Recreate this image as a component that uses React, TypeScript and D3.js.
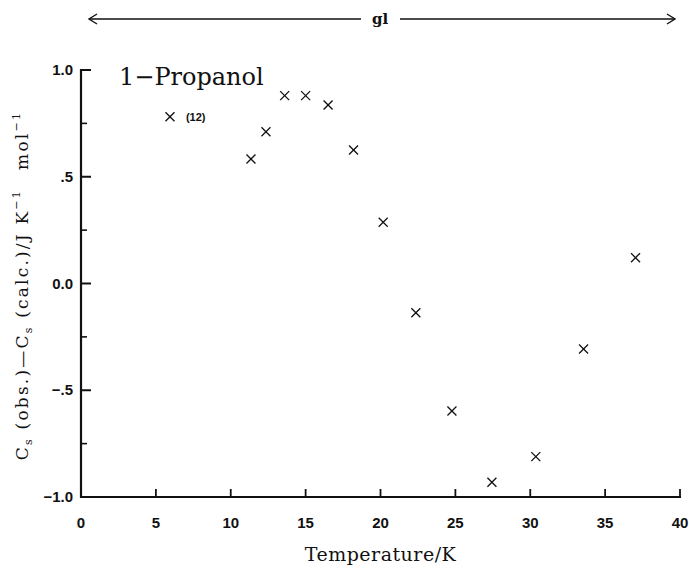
import React from "react";
import * as d3 from "d3";

const temperatures = [5.94, 11.35, 12.35, 13.6, 15.0, 16.5, 18.2, 20.18, 22.36, 24.77, 27.44, 30.37, 33.56, 37.03];
const deltaCs = [0.781, 0.583, 0.711, 0.88, 0.88, 0.836, 0.625, 0.287, -0.137, -0.597, -0.931, -0.811, -0.307, 0.121];
const xTicks = [0, 5, 10, 15, 20, 25, 30, 35, 40];
const yMajorTicks = [1.0, 0.5, 0.0, -0.5, -1.0];
const yMajorLabels = ["1.0", ".5", "0.0", "\u2212.5", "\u22121.0"];
const yMinorTicks = [0.75, 0.25, -0.25, -0.75];
const title = "1\u2212Propanol";
const phaseLabel = "gl";
const annotation = "(12)";

const W = 689;
const H = 570;
const left = 81;
const right = 680;
const top = 70;
const bottom = 497;

export default function App() {
  const x = d3.scaleLinear().domain([0, 40]).range([left, right]);
  const y = d3.scaleLinear().domain([-1, 1]).range([bottom, top]);
  const s = 4.5;
  const serif = "'DejaVu Serif', serif";
  const sans = "'Liberation Sans', Arial, sans-serif";
  const arrowY = 19;
  const mid = (left + right) / 2;

  return (
    <div style={{ position: "absolute", left: 0, top: 0 }}>
      <svg width={W} height={H} viewBox={`0 0 ${W} ${H}`} style={{ display: "block", background: "#fff" }}>
        {/* top arrow */}
        <g stroke="#111" strokeWidth={1.4} fill="none">
          <line x1={89} y1={arrowY} x2={361} y2={arrowY} />
          <line x1={400} y1={arrowY} x2={675} y2={arrowY} />
          <polyline points={`${97},${arrowY - 5} ${89},${arrowY} ${97},${arrowY + 5}`} />
          <polyline points={`${667},${arrowY - 5} ${675},${arrowY} ${667},${arrowY + 5}`} />
        </g>
        <text x={380} y={arrowY + 5} textAnchor="middle" fontFamily={serif} fontSize={15} fontWeight="bold" fill="#111">
          {phaseLabel}
        </text>

        {/* axes */}
        <g stroke="#111" fill="none">
          <line x1={left} y1={top - 1} x2={left} y2={bottom + 1} strokeWidth={2.2} />
          <line x1={left - 1} y1={bottom} x2={right + 1} y2={bottom} strokeWidth={2.2} />
          {xTicks.map((t) => (
            <line key={"xt" + t} x1={x(t)} x2={x(t)} y1={bottom} y2={bottom - 8} strokeWidth={1.8} />
          ))}
          {yMajorTicks.map((t) => (
            <line key={"yM" + t} x1={left} x2={left + 10} y1={y(t)} y2={y(t)} strokeWidth={2} />
          ))}
          {yMinorTicks.map((t) => (
            <line key={"ym" + t} x1={left} x2={left + 6} y1={y(t)} y2={y(t)} strokeWidth={1.6} />
          ))}
        </g>
        <g fontFamily={sans} fontSize={15} fontWeight="bold" fill="#111">
          {xTicks.map((t) => (
            <text key={"xl" + t} x={x(t)} y={bottom + 31} textAnchor="middle">
              {String(t)}
            </text>
          ))}
          {yMajorTicks.map((t, i) => (
            <text key={"yl" + t} x={left - 8} y={y(t) + 5} textAnchor="end">
              {yMajorLabels[i]}
            </text>
          ))}
        </g>

        {/* axis titles */}
        <text x={mid} y={561} textAnchor="middle" fontFamily={serif} fontSize={19} letterSpacing={0.5} fill="#111">
          Temperature/K
        </text>
        <text
          transform={`translate(28,${(top + bottom) / 2 + 2}) rotate(-90)`}
          textAnchor="middle"
          fontFamily={serif}
          fontSize={17}
          letterSpacing={2.2}
          fill="#111"
        >
          <tspan>C</tspan>
          <tspan fontSize={11} dy={4}>s</tspan>
          <tspan dy={-4}> (obs.)</tspan>
          <tspan>{"\u2014C"}</tspan>
          <tspan fontSize={11} dy={4}>s</tspan>
          <tspan dy={-4}> (calc.)/J K</tspan>
          <tspan fontSize={11} dy={-8}>{"\u22121"}</tspan>
          <tspan dy={8}>{"\u2003mol"}</tspan>
          <tspan fontSize={11} dy={-8}>{"\u22121"}</tspan>
        </text>

        {/* title */}
        <text x={119} y={85} fontFamily={serif} fontSize={24} fill="#111">
          {title}
        </text>

        {/* points */}
        <g stroke="#111" strokeWidth={1.3}>
          {temperatures.map((t, i) => {
            const cx = x(t);
            const cy = y(deltaCs[i]);
            return (
              <g key={"p" + i}>
                <line x1={cx - s} y1={cy - s} x2={cx + s} y2={cy + s} />
                <line x1={cx - s} y1={cy + s} x2={cx + s} y2={cy - s} />
              </g>
            );
          })}
        </g>
        <text x={x(temperatures[0]) + 16} y={y(deltaCs[0]) + 4} fontFamily={sans} fontSize={11} fontWeight="bold" fill="#111">
          {annotation}
        </text>
      </svg>
    </div>
  );
}
